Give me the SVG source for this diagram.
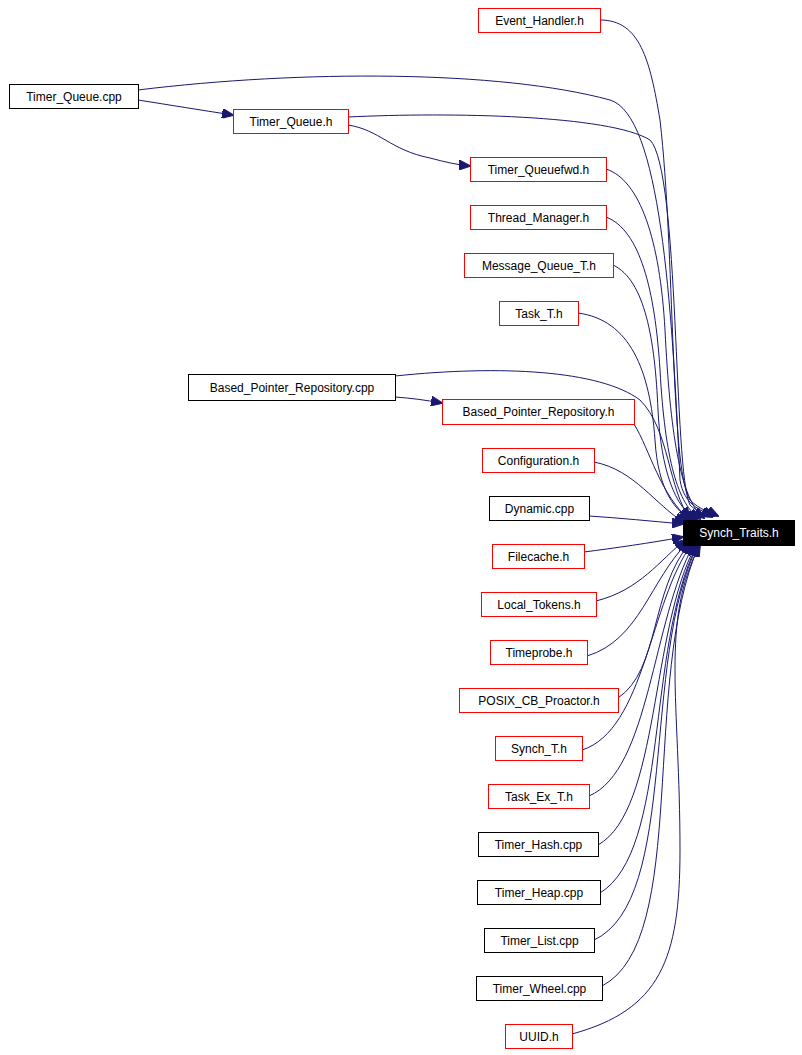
<svg xmlns="http://www.w3.org/2000/svg" width="802" height="1055" viewBox="0 0 802 1055">
<style>
.n rect{fill:#fff;stroke-width:1}
.r rect{stroke:#ff0000}
.b rect{stroke:#000}
text{font-family:"Liberation Sans",Arial,sans-serif;font-size:12px;text-anchor:middle;fill:#000}
.e path{fill:none;stroke:#191970;stroke-width:1;marker-end:url(#a)}
</style>
<defs><marker id="a" markerWidth="12" markerHeight="10" refX="11" refY="5" orient="auto" markerUnits="userSpaceOnUse"><polygon points="0,0 12,5 0,10" fill="#191970" stroke="#191970"/></marker></defs>
<rect width="802" height="1055" fill="#fff"/>
<g class="e">
<path d="M600,20 C640,20 650,60 660,120 C675,250 670,470 690,500 C700,510 710,512 718,516"/>
<path d="M138,90 C300,70 500,70 610,100 C660,115 672,300 680,480 C684,505 700,510 714,516"/>
<path d="M138,100 C170,105 200,110 233,115"/>
<path d="M348,117 C450,112 610,115 650,140 C680,170 673,470 690,505 C697,512 706,514 712,517"/>
<path d="M348,125 C380,130 390,150 430,158 C445,162 458,165 470,166"/>
<path d="M606,169 C640,180 660,240 665,330 C670,430 680,500 704,518"/>
<path d="M606,217 C640,230 655,290 660,370 C665,460 678,505 700,519"/>
<path d="M613,265 C645,280 655,340 658,410 C661,470 675,508 697,520"/>
<path d="M578,313 C630,320 650,370 655,440 C658,490 675,512 694,521"/>
<path d="M395,376 C500,365 600,370 640,400 C670,430 668,490 690,518"/>
<path d="M395,397 C410,398 425,400 442,403"/>
<path d="M634,424 C650,450 660,495 690,520"/>
<path d="M594,462 C635,470 655,505 685,523"/>
<path d="M589,516 C620,518 650,521 683,524"/>
<path d="M584,552 C615,548 650,543 683,537"/>
<path d="M596,601 C640,590 660,560 685,540"/>
<path d="M587,656 C640,640 650,580 688,542"/>
<path d="M618,698 C660,670 650,590 690,543"/>
<path d="M582,750 C645,730 650,600 692,544"/>
<path d="M589,796 C650,770 652,620 694,544"/>
<path d="M598,845 C660,810 650,630 696,545"/>
<path d="M600,893 C670,850 645,650 697,545"/>
<path d="M594,940 C680,900 640,660 698,545"/>
<path d="M602,986 C690,940 640,680 699,545"/>
<path d="M572,1034 C660,1010 680,960 680,850 C680,700 660,620 700,545"/>
</g>
<g id="n1" class="n r"><rect x="478.5" y="8.5" width="122" height="24"/><text x="539.5" y="25">Event_Handler.h</text></g>
<g id="n2" class="n b"><rect x="9.5" y="84.5" width="129" height="24"/><text x="74" y="101">Timer_Queue.cpp</text></g>
<g id="n3" class="n r"><rect x="233.5" y="109.5" width="115" height="24"/><text x="291" y="126">Timer_Queue.h</text></g>
<g id="n4" class="n r"><rect x="470.5" y="157.5" width="136" height="24"/><text x="538.5" y="174">Timer_Queuefwd.h</text></g>
<g id="n5" class="n r"><rect x="470.5" y="205.5" width="136" height="24"/><text x="538.5" y="222">Thread_Manager.h</text></g>
<g id="n6" class="n r"><rect x="464.5" y="253.5" width="149" height="24"/><text x="539" y="270">Message_Queue_T.h</text></g>
<g id="n7" class="n r"><rect x="499.5" y="301.5" width="79" height="24"/><text x="539" y="318">Task_T.h</text></g>
<g id="n8" class="n b"><rect x="188.5" y="374.5" width="207" height="26"/><text x="292" y="392">Based_Pointer_Repository.cpp</text></g>
<g id="n9" class="n r"><rect x="442.5" y="399.5" width="192" height="25"/><text x="538.5" y="416">Based_Pointer_Repository.h</text></g>
<g id="n10" class="n r"><rect x="482.5" y="448.5" width="112" height="24"/><text x="538.5" y="465">Configuration.h</text></g>
<g id="n11" class="n b"><rect x="489.5" y="496.5" width="100" height="24"/><text x="539.5" y="513">Dynamic.cpp</text></g>
<g id="n12" class="n r"><rect x="492.5" y="544.5" width="92" height="24"/><text x="538.5" y="561">Filecache.h</text></g>
<g id="n13" class="n r"><rect x="481.5" y="592.5" width="115" height="24"/><text x="539" y="609">Local_Tokens.h</text></g>
<g id="n14" class="n r"><rect x="490.5" y="640.5" width="97" height="24"/><text x="539" y="657">Timeprobe.h</text></g>
<g id="n15" class="n r"><rect x="459.5" y="688.5" width="159" height="24"/><text x="539" y="705">POSIX_CB_Proactor.h</text></g>
<g id="n16" class="n r"><rect x="495.5" y="736.5" width="87" height="24"/><text x="539" y="753">Synch_T.h</text></g>
<g id="n17" class="n r"><rect x="488.5" y="784.5" width="101" height="24"/><text x="539" y="801">Task_Ex_T.h</text></g>
<g id="n18" class="n b"><rect x="478.5" y="832.5" width="120" height="24"/><text x="538.5" y="849">Timer_Hash.cpp</text></g>
<g id="n19" class="n b"><rect x="477.5" y="880.5" width="123" height="24"/><text x="539" y="897">Timer_Heap.cpp</text></g>
<g id="n20" class="n b"><rect x="484.5" y="928.5" width="110" height="24"/><text x="539.5" y="945">Timer_List.cpp</text></g>
<g id="n21" class="n b"><rect x="476.5" y="976.5" width="126" height="24"/><text x="539.5" y="993">Timer_Wheel.cpp</text></g>
<g id="n22" class="n r"><rect x="505.5" y="1024.5" width="67" height="24"/><text x="539" y="1041">UUID.h</text></g>
<g id="n0"><rect x="683.5" y="520.5" width="111" height="25" fill="#000" stroke="#000"/><text x="739" y="537" style="fill:#fff">Synch_Traits.h</text></g>
</svg>
